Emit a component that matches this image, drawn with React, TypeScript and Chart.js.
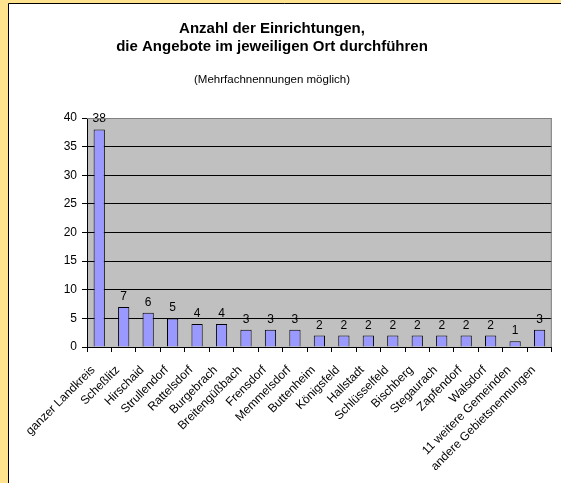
import React, { useEffect, useRef } from "react";
import { Chart, registerables } from "chart.js";

Chart.register(...registerables);

const categories = [
  "ganzer Landkreis",
  "Scheßlitz",
  "Hirschaid",
  "Strullendorf",
  "Rattelsdorf",
  "Burgebrach",
  "Breitengüßbach",
  "Frensdorf",
  "Memmelsdorf",
  "Buttenheim",
  "Königsfeld",
  "Hallstadt",
  "Schlüsselfeld",
  "Bischberg",
  "Stegaurach",
  "Zapfendorf",
  "Walsdorf",
  "11 weitere Gemeinden",
  "andere Gebietsnennungen",
];
const values = [38, 7, 6, 5, 4, 4, 3, 3, 3, 2, 2, 2, 2, 2, 2, 2, 2, 1, 3];
const titleLines = ["Anzahl der Einrichtungen,", "die Angebote im jeweiligen Ort durchführen"];
const subtitle = "(Mehrfachnennungen möglich)";

const FONT = "'Liberation Sans', Arial, sans-serif";

const framePlugin = {
  id: "frame",
  beforeDraw(chart: any) {
    const { ctx, width, height, chartArea } = chart;
    ctx.save();
    ctx.fillStyle = "#FFE38F";
    ctx.fillRect(0, 0, width, height);
    ctx.fillStyle = "#FFFFFF";
    ctx.fillRect(9, 4, width - 9, height - 4);
    ctx.strokeStyle = "#000";
    ctx.lineWidth = 1;
    ctx.beginPath();
    ctx.moveTo(8.5, height);
    ctx.lineTo(8.5, 3.5);
    ctx.lineTo(width, 3.5);
    ctx.stroke();
    ctx.fillStyle = "#C0C0C0";
    ctx.fillRect(chartArea.left, chartArea.top, chartArea.right - chartArea.left, chartArea.bottom - chartArea.top);
    ctx.restore();
  },
  afterDraw(chart: any) {
    const { ctx, chartArea } = chart;
    ctx.save();
    ctx.strokeStyle = "#808080";
    ctx.lineWidth = 1;
    ctx.beginPath();
    ctx.moveTo(chartArea.left, chartArea.top + 0.5);
    ctx.lineTo(chartArea.right - 0.5, chartArea.top + 0.5);
    ctx.lineTo(chartArea.right - 0.5, chartArea.bottom);
    ctx.stroke();
    ctx.fillStyle = "#000";
    ctx.textAlign = "center";
    ctx.textBaseline = "alphabetic";
    ctx.font = `bold 15px ${FONT}`;
    ctx.fillText(titleLines[0], 272, 33);
    ctx.fillText(titleLines[1], 272, 51);
    ctx.font = `11.5px ${FONT}`;
    ctx.fillText(subtitle, 272, 83);
    ctx.restore();
  },
};

const labelPlugin = {
  id: "barLabels",
  afterDatasetsDraw(chart: any) {
    const { ctx } = chart;
    const meta = chart.getDatasetMeta(0);
    ctx.save();
    ctx.fillStyle = "#000";
    ctx.font = `12px ${FONT}`;
    ctx.textAlign = "center";
    ctx.textBaseline = "alphabetic";
    meta.data.forEach((bar: any, i: number) => {
      ctx.fillText(String(values[i]), bar.x, bar.y - 7);
    });
    ctx.restore();
  },
};

export default function App() {
  const ref = useRef<HTMLCanvasElement>(null);
  useEffect(() => {
    if (!ref.current) return;
    const chart = new Chart(ref.current, {
      type: "bar",
      data: {
        labels: categories,
        datasets: [
          {
            data: values,
            backgroundColor: "#9999FF",
            borderColor: "#000",
            borderWidth: 1,
            barPercentage: 0.46,
            categoryPercentage: 1,
          },
        ],
      },
      options: {
        animation: false,
        responsive: false,
        devicePixelRatio: 1,
        layout: { padding: { left: 0, top: 118, right: 9, bottom: 0 } },
        plugins: { legend: { display: false }, title: { display: false }, tooltip: { enabled: false } },
        scales: {
          x: {
            offset: true,
            grid: {
              display: true,
              drawOnChartArea: false,
              drawTicks: true,
              tickLength: 5,
              color: "#000",
              offset: true,
            },
            border: { display: true, color: "#000" },
            ticks: {
              autoSkip: false,
              maxRotation: 45,
              minRotation: 45,
              color: "#000",
              padding: 11,
              labelOffset: -6,
              font: { family: FONT, size: 12 },
            },
            afterFit: (s: any) => {
              s.height = 136;
            },
          },
          y: {
            min: 0,
            max: 40,
            ticks: { stepSize: 5, color: "#000", padding: 5, font: { family: FONT, size: 12 } },
            grid: {
              color: (c: any) => (c.tick && c.tick.value === 40 ? "#808080" : "#000"),
              tickLength: 5,
              tickColor: "#000",
            },
            border: { display: true, color: "#000" },
            afterFit: (s: any) => {
              s.width = 87;
            },
          },
        },
      },
      plugins: [framePlugin, labelPlugin],
    });
    return () => chart.destroy();
  }, []);
  return (
    <div style={{ position: "fixed", left: 0, top: 0, width: 561, height: 483 }}>
      <canvas ref={ref} width={561} height={483} style={{ width: 561, height: 483, display: "block" }} />
    </div>
  );
}
